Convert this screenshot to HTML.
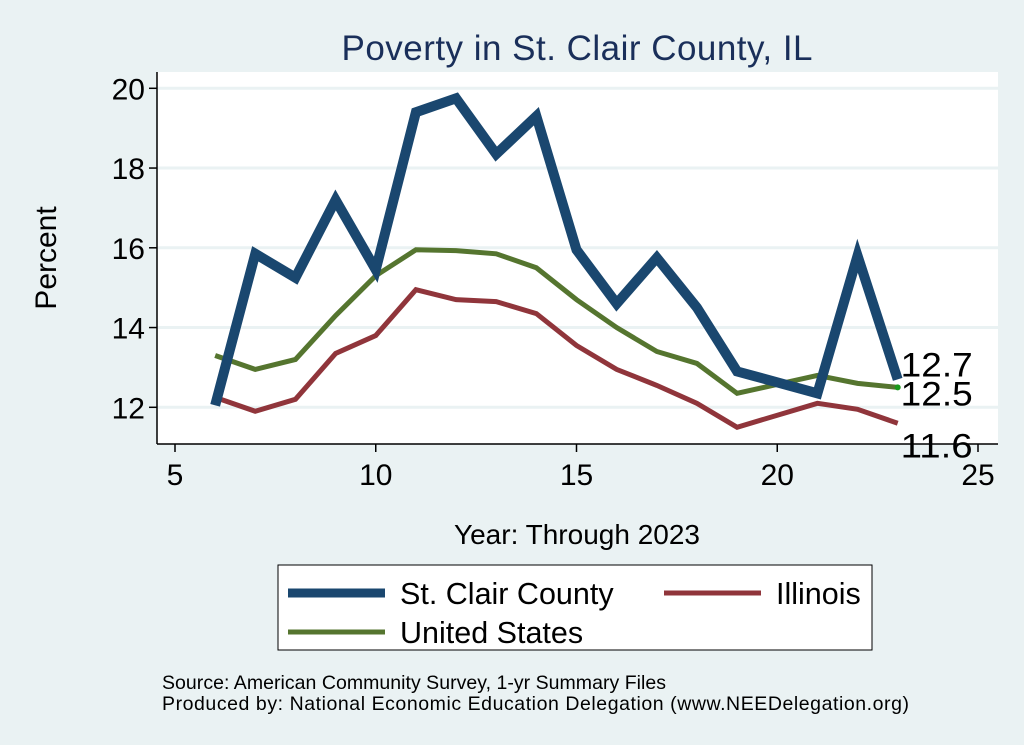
<!DOCTYPE html>
<html><head><meta charset="utf-8"><style>
body{margin:0;background:#eaf2f3;}
svg{display:block;font-family:"Liberation Sans",sans-serif;}
</style></head><body>
<svg width="1024" height="745" viewBox="0 0 1024 745">
<rect x="0" y="0" width="1024" height="745" fill="#eaf2f3"/>
<text x="577" y="60" text-anchor="middle" font-size="35" textLength="471" fill="#1a2f5a">Poverty in St. Clair County, IL</text>
<rect x="157" y="72" width="841" height="372" fill="#fff"/>
<g id="grid"></g>
<g id="series"></g>
<g id="axes"></g>
<text transform="translate(56,258) rotate(-90)" text-anchor="middle" font-size="30" fill="#000">Percent</text>
<text x="577" y="544" text-anchor="middle" font-size="28" fill="#000">Year: Through 2023</text>
<g>
<rect x="278" y="565" width="594" height="85" fill="#fff" stroke="#000" stroke-width="1"/>
<line x1="288" y1="593" x2="385" y2="593" stroke="#1a476f" stroke-width="9"/>
<text x="400" y="604" font-size="30.5">St. Clair County</text>
<line x1="664" y1="593" x2="761" y2="593" stroke="#90353b" stroke-width="5"/>
<text x="776" y="604" font-size="30.5">Illinois</text>
<line x1="288" y1="632" x2="385" y2="632" stroke="#55752f" stroke-width="5"/>
<text x="400" y="643" font-size="30.5">United States</text>
</g>
<text x="162" y="689" font-size="19.5" textLength="504">Source: American Community Survey, 1-yr Summary Files</text>
<text x="162" y="710" font-size="19.5" textLength="747">Produced by: National Economic Education Delegation (www.NEEDelegation.org)</text>
</svg>
<script>
const years=[6,7,8,9,10,11,12,13,14,15,16,17,18,19,21,22,23];
const stclair=[12.05,15.85,15.25,17.2,15.45,19.4,19.75,18.35,19.3,15.95,14.6,15.75,14.5,12.9,12.35,15.8,12.7];
const illinois=[12.25,11.9,12.2,13.35,13.8,14.95,14.7,14.65,14.35,13.55,12.95,12.55,12.1,11.5,12.1,11.95,11.6];
const us=[13.3,12.95,13.2,14.3,15.3,15.95,15.93,15.85,15.5,14.7,14.0,13.4,13.1,12.35,12.8,12.6,12.5];
const yTicks=[12,14,16,18,20];
const xTicks=[5,10,15,20,25];
const NS="http://www.w3.org/2000/svg";
const X=v=>175+(v-5)*40.15;
const Y=v=>407.3-(v-12)*39.875;
function mk(t,a,p){const e=document.createElementNS(NS,t);for(const k in a)e.setAttribute(k,a[k]);p.appendChild(e);return e;}
const grid=document.getElementById('grid'),axes=document.getElementById('axes'),ser=document.getElementById('series');
yTicks.forEach(t=>{
 const g=mk('line',{x1:157,x2:998,y1:Y(t),y2:Y(t),stroke:'#eaf2f3','stroke-width':3},grid);
 
 
 const tk=mk('line',{x1:149,x2:157,y1:Y(t),y2:Y(t),stroke:'#000','stroke-width':1.5},axes);
 
 
 const tx=mk('text',{x:145,y:Y(t)+11,'text-anchor':'end','font-size':30},axes);
 tx.textContent=t;
 
 
});
xTicks.forEach(t=>{
 const tk=mk('line',{x1:X(t),x2:X(t),y1:444,y2:452,stroke:'#000','stroke-width':1.5},axes);
 
 
 const tx=mk('text',{x:X(t),y:485,'text-anchor':'middle','font-size':30},axes);
 tx.textContent=t;
 
 
});
const ya=mk('line',{x1:157,x2:157,y1:72,y2:444,stroke:'#000','stroke-width':1.5},axes);


const xa=mk('line',{x1:157,x2:998,y1:444,y2:444,stroke:'#000','stroke-width':1.5},axes);


function line(vals,color,w,name){
 const pts=years.map((y,i)=>X(y)+','+Y(vals[i])).join(' ');
 const p=mk('polyline',{points:pts,fill:'none',stroke:color,'stroke-width':w,'stroke-linejoin':'miter'},ser);
 
 
}
line(us,'#55752f',5,'line-united-states');
line(illinois,'#90353b',5,'line-illinois');
line(stclair,'#1a476f',10,'line-st-clair-county');
const last=years.length-1;
const dot=mk('circle',{cx:X(years[last]),cy:Y(us[last]),r:3,fill:'#1a9a1a'},ser);


[[stclair,'label-st-clair-end',-15],[us,'label-us-end',6],[illinois,'label-illinois-end',22]].forEach(([v,n,dy])=>{
 const t=mk('text',{x:X(years[last])+3,y:Y(v[last])+dy+12,'font-size':34,textLength:72,lengthAdjust:'spacingAndGlyphs'},ser);
 t.textContent=v[last].toFixed(1);
 
 
});
</script>
</body></html>
